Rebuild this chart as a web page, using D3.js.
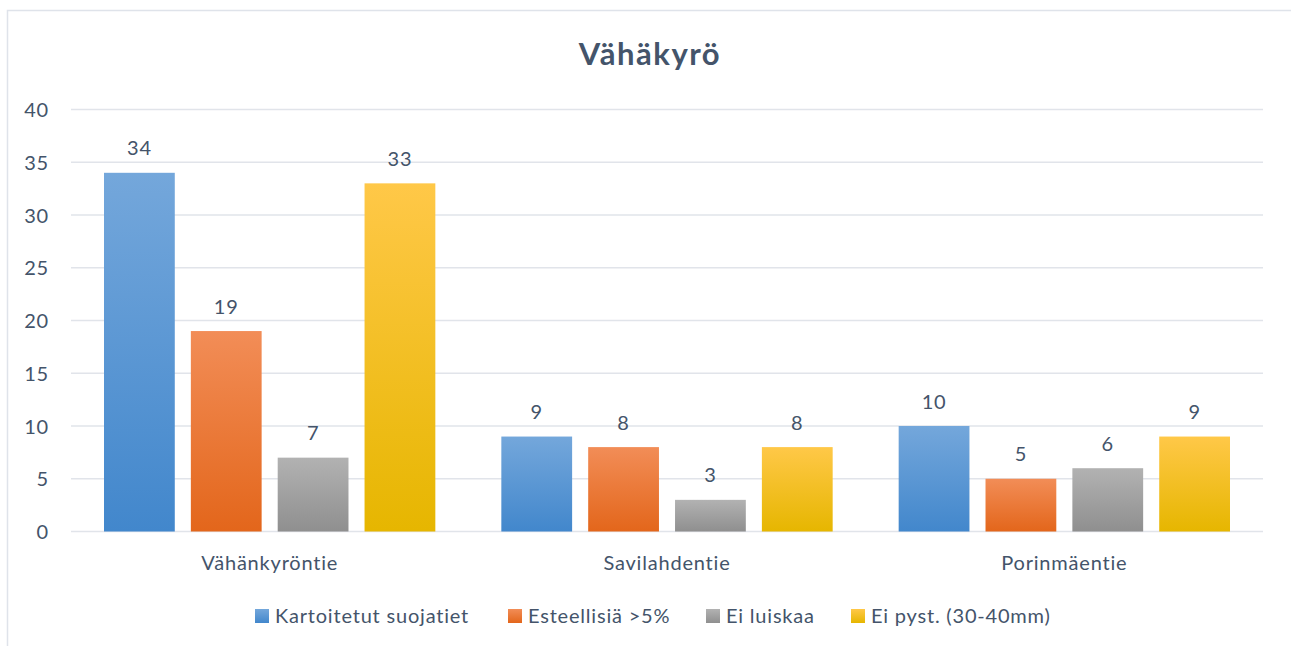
<!DOCTYPE html>
<html>
<head>
<meta charset="utf-8">
<script src="https://cdn.jsdelivr.net/npm/d3@7"></script>
<style>
  body { margin: 0; background: #fff; }
  svg { display: block; font-family: Lato, "Open Sans", sans-serif; }
</style>
</head>
<body>
<svg id="chart" width="1291" height="646"></svg>
<script>
const categories = ["Vähänkyröntie", "Savilahdentie", "Porinmäentie"];
const seriesNames = ["Kartoitetut suojatiet", "Esteellisiä >5%", "Ei luiskaa", "Ei pyst. (30-40mm)"];
const kartoitetut = [34, 9, 10];
const esteellisia = [19, 8, 5];
const eiLuiskaa = [7, 3, 6];
const eiPyst = [33, 8, 9];
const yTicks = [0, 5, 10, 15, 20, 25, 30, 35, 40];

const seriesValues = [kartoitetut, esteellisia, eiLuiskaa, eiPyst];
const gradients = [
    ["#74a7db", "#4287cc"],
    ["#f28d57", "#e3661b"],
    ["#b2b2b2", "#8f8f8f"],
    ["#ffc848", "#e6b600"]
];
const textColor = "#44546a";
const fontSize = 20;
const spacing = "0.8px";

const svg = d3.select("#chart");

// outer frame
svg.append("rect")
    .attr("x", 7.5).attr("y", 10.5)
    .attr("width", 1300).attr("height", 700)
    .attr("fill", "none")
    .attr("stroke", "#dfe3ea")
    .attr("stroke-width", 1.5);

const defs = svg.append("defs");
gradients.forEach((g, i) => {
    const lg = defs.append("linearGradient")
        .attr("id", "grad" + i)
        .attr("x1", 0).attr("y1", 0).attr("x2", 0).attr("y2", 1);
    lg.append("stop").attr("offset", "0%").attr("stop-color", g[0]);
    lg.append("stop").attr("offset", "100%").attr("stop-color", g[1]);
});

const plotLeft = 71, plotRight = 1263, plotTop = 109.5, plotBottom = 531.5;

const x0 = d3.scaleBand().domain(categories).range([plotLeft, plotRight]).paddingInner(0).paddingOuter(0);
const x1 = d3.scaleBand().domain(d3.range(seriesNames.length))
    .range([33, x0.bandwidth() - 33]).paddingInner(0.185).paddingOuter(0);
const y = d3.scaleLinear().domain([0, 40]).range([plotBottom, plotTop]);

// title
svg.append("text")
    .attr("x", 650).attr("y", 65)
    .attr("text-anchor", "middle")
    .attr("font-size", 31).attr("font-weight", "bold")
    .attr("letter-spacing", "1.5px")
    .attr("fill", textColor)
    .text("Vähäkyrö");

// gridlines
svg.append("g").selectAll("line")
    .data(yTicks)
    .enter()
    .append("line")
    .attr("x1", plotLeft).attr("x2", plotRight)
    .attr("y1", d => y(d)).attr("y2", d => y(d))
    .attr("stroke", "#e1e4ea")
    .attr("stroke-width", 1.5);

// y axis labels
const yAxis = d3.axisLeft(y).tickValues(yTicks).tickSize(0).tickPadding(0);
const yg = svg.append("g").attr("transform", `translate(49,0)`).call(yAxis);
yg.select(".domain").remove();
yg.selectAll("text")
    .attr("font-size", fontSize)
    .attr("font-family", "Lato, sans-serif")
    .attr("letter-spacing", spacing)
    .attr("fill", textColor)
    .attr("dy", "0.36em");

// bars
const groups = svg.append("g").selectAll("g")
    .data(categories)
    .enter()
    .append("g")
    .attr("transform", d => `translate(${x0(d)},0)`);

groups.selectAll("rect")
    .data((c, ci) => seriesValues.map((s, si) => ({si, v: s[ci]})))
    .enter()
    .append("rect")
    .attr("x", d => x1(d.si))
    .attr("width", x1.bandwidth())
    .attr("y", d => y(d.v))
    .attr("height", d => y(0) - y(d.v))
    .attr("fill", d => `url(#grad${d.si})`);

groups.selectAll("text.val")
    .data((c, ci) => seriesValues.map((s, si) => ({si, v: s[ci]})))
    .enter()
    .append("text")
    .attr("class", "val")
    .attr("x", d => x1(d.si) + x1.bandwidth() / 2)
    .attr("y", d => y(d.v) - 17.5)
    .attr("text-anchor", "middle")
    .attr("font-size", fontSize)
    .attr("letter-spacing", spacing)
    .attr("fill", textColor)
    .text(d => d.v);

// category labels
const xAxis = d3.axisBottom(x0).tickSize(0).tickPadding(0);
const xg = svg.append("g").attr("transform", `translate(0,${plotBottom + 38.5})`).call(xAxis);
xg.select(".domain").remove();
xg.selectAll("text")
    .attr("font-size", fontSize)
    .attr("font-family", "Lato, sans-serif")
    .attr("letter-spacing", spacing)
    .attr("fill", textColor)
    .attr("dy", 0);

// legend
const legendX = [255, 508, 706, 851];
const legend = svg.append("g").selectAll("g")
    .data(seriesNames)
    .enter()
    .append("g")
    .attr("transform", (d, i) => `translate(${legendX[i]},609)`);
legend.append("rect")
    .attr("width", 14).attr("height", 14)
    .attr("fill", (d, i) => `url(#grad${i})`);
legend.append("text")
    .attr("x", 20).attr("y", 14)
    .attr("font-size", fontSize)
    .attr("letter-spacing", spacing)
    .attr("fill", textColor)
    .text(d => d);
</script>
</body>
</html>
